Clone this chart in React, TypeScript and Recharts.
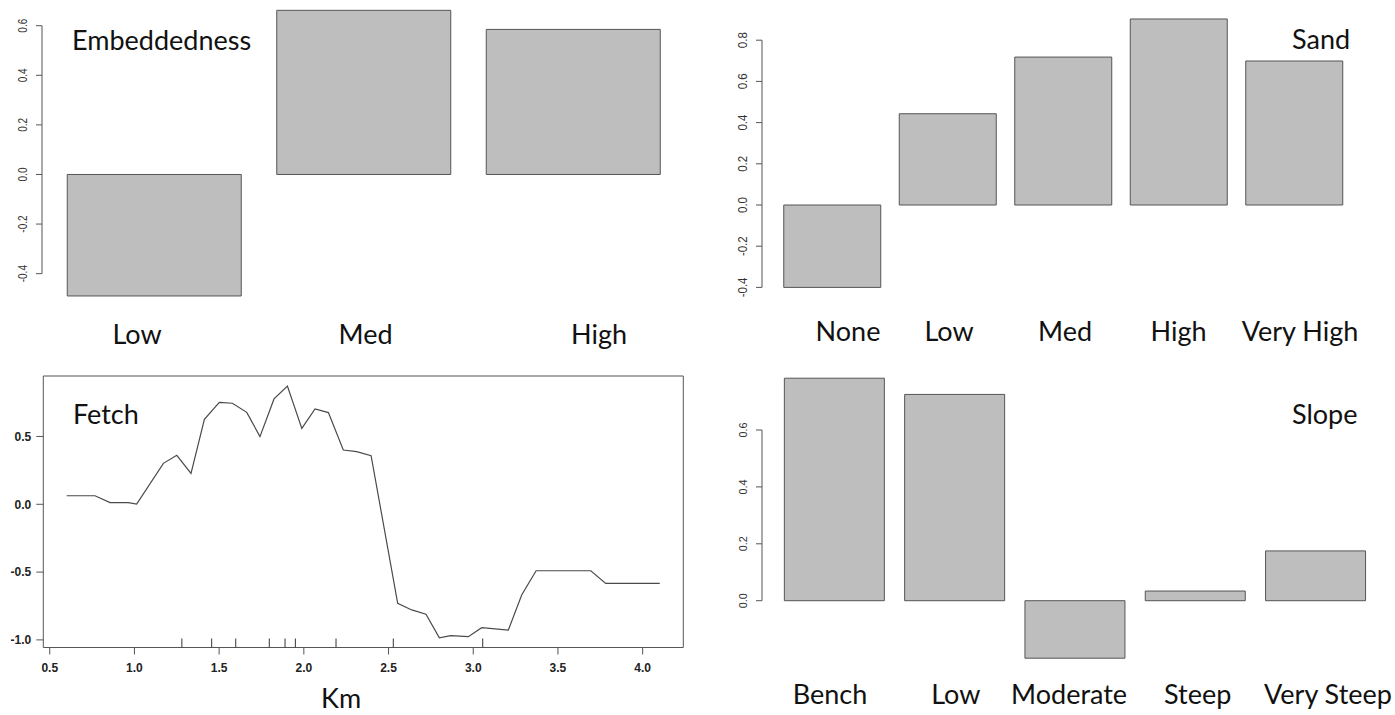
import { BarChart, Bar, XAxis, YAxis, ReferenceLine, ComposedChart, Line, Scatter, ReferenceArea } from 'recharts'

const BAR_FILL = '#bebebe'
const BAR_EDGE = '#555555'
const AXIS_GREY = '#555555'
const LABEL_FONT = 'Lato, "Open Sans", sans-serif'
const TICK_FONT = '"Liberation Sans", Arial, sans-serif'

// Embeddedness
const EMB_CATS = ['Low', 'Med', 'High']
const EMB_VALUES = [-0.49, 0.662, 0.585]
const EMB_TICKS = [-0.4, -0.2, 0, 0.2, 0.4, 0.6]

// Sand
const SAND_CATS = ['None', 'Low', 'Med', 'High', 'Very High']
const SAND_VALUES = [-0.4, 0.443, 0.718, 0.903, 0.699]
const SAND_TICKS = [-0.4, -0.2, 0, 0.2, 0.4, 0.6, 0.8]

// Slope
const SLOPE_CATS = ['Bench', 'Low', 'Moderate', 'Steep', 'Very Steep']
const SLOPE_VALUES = [0.782, 0.725, -0.202, 0.034, 0.175]
const SLOPE_TICKS = [0, 0.2, 0.4, 0.6]

// Fetch (km) partial dependence
const FETCH_KM = [
  0.6, 0.767, 0.856, 0.964, 1.013, 1.171, 1.25, 1.334, 1.413, 1.501, 1.578, 1.663,
  1.741, 1.824, 1.903, 1.988, 2.066, 2.145, 2.233, 2.312, 2.397, 2.554, 2.637, 2.721,
  2.8, 2.867, 2.971, 3.05, 3.207, 3.286, 3.371, 3.694, 3.782, 4.101,
]
const FETCH_EFFECT = [
  0.063, 0.063, 0.012, 0.012, 0.002, 0.302, 0.361, 0.228, 0.627, 0.752, 0.745, 0.678,
  0.499, 0.777, 0.872, 0.56, 0.703, 0.676, 0.4, 0.388, 0.359, -0.73, -0.779, -0.811,
  -0.984, -0.969, -0.976, -0.91, -0.927, -0.669, -0.49, -0.49, -0.583, -0.583,
]
const FETCH_RUG = [1.28, 1.456, 1.598, 1.796, 1.889, 1.95, 2.19, 2.528, 3.056]
const FETCH_X_TICKS = [0.5, 1, 1.5, 2, 2.5, 3, 3.5, 4]
const FETCH_Y_TICKS = [-1, -0.5, 0, 0.5]
const FETCH_X_DOMAIN: [number, number] = [0.462, 4.24]
const FETCH_Y_DOMAIN: [number, number] = [-1.056, 0.946]

function rotatedTick(fontSize: number, stretch: number) {
  return (props: any) => {
    const { x, y, payload } = props
    return (
      <text
        transform={`translate(${x},${y}) scale(${stretch},1) rotate(-90)`}
        textAnchor="middle"
        fontSize={fontSize}
        fontFamily={TICK_FONT}
        fill="#333"
      >
        {Number(payload.value).toFixed(1)}
      </text>
    )
  }
}

function categoryTick(dxList: number[], dy: number) {
  return (props: any) => {
    const { x, y, payload, index } = props
    return (
      <text x={x + (dxList[index] ?? 0)} y={y + dy} textAnchor="middle" fontSize={27} fontFamily={LABEL_FONT} fill="#111">
        {payload.value}
      </text>
    )
  }
}

interface BarPanelProps {
  cats: string[]
  values: number[]
  ticks: number[]
  domain: [number, number]
  left: number
  top: number
  width: number
  height: number
  marginTop: number
  plotHeight: number
  padLeft: number
  padRight: number
  barSize: number
  labelDx: number[]
  labelDy: number
  tickFont: number
  tickStretch: number
}

function BarPanel(p: BarPanelProps) {
  const data = p.cats.map((cat, i) => ({ cat, v: p.values[i] }))
  const first = p.ticks[0]
  const last = p.ticks[p.ticks.length - 1]
  return (
    <div style={{ position: 'absolute', left: p.left, top: p.top }}>
      <BarChart width={p.width} height={p.height} data={data} margin={{ top: p.marginTop, right: 0, bottom: 0, left: 0 }}>
        <XAxis
          dataKey="cat"
          axisLine={false}
          tickLine={false}
          tickSize={0}
          tickMargin={0}
          interval={0}
          height={p.height - p.marginTop - p.plotHeight}
          padding={{ left: p.padLeft, right: p.padRight }}
          tick={categoryTick(p.labelDx, p.labelDy)}
        />
        <XAxis xAxisId="frame" type="number" domain={[0, 1]} hide />
        <YAxis
          type="number"
          domain={p.domain}
          allowDataOverflow
          ticks={p.ticks}
          interval={0}
          width={42}
          axisLine={false}
          tickSize={6}
          tickMargin={9}
          tickLine={{ stroke: AXIS_GREY }}
          tick={rotatedTick(p.tickFont, p.tickStretch)}
        />
        <ReferenceLine
          xAxisId="frame"
          segment={[{ x: 0, y: first }, { x: 0, y: last }]}
          stroke={AXIS_GREY}
          ifOverflow="visible"
        />
        <Bar dataKey="v" fill={BAR_FILL} stroke={BAR_EDGE} strokeWidth={1} barSize={p.barSize} isAnimationActive={false} />
      </BarChart>
    </div>
  )
}

function Title({ text, left, top, size = 27 }: { text: string; left: number; top: number; size?: number }) {
  return (
    <div style={{ position: 'absolute', left, top, fontFamily: LABEL_FONT, fontSize: size, lineHeight: 1, color: '#111', whiteSpace: 'nowrap' }}>
      {text}
    </div>
  )
}

function FetchPanel() {
  const data = FETCH_KM.map((km, i) => ({ km, effect: FETCH_EFFECT[i] }))
  const rug = FETCH_RUG.map(km => ({ km, effect: FETCH_Y_DOMAIN[0] }))
  const tickStyle = { fontSize: 12, fontWeight: 'bold' as const, fill: '#222', fontFamily: TICK_FONT }
  return (
    <div style={{ position: 'absolute', left: 0, top: 360 }}>
      <ComposedChart width={690} height={355} data={data} margin={{ top: 16, right: 6.7, bottom: 0, left: 0 }}>
        <XAxis
          dataKey="km"
          type="number"
          domain={FETCH_X_DOMAIN}
          allowDataOverflow
          ticks={FETCH_X_TICKS}
          interval={0}
          tickFormatter={v => Number(v).toFixed(1)}
          axisLine={false}
          tickSize={7}
          tickMargin={9}
          tickLine={{ stroke: AXIS_GREY }}
          height={355 - 16 - 271.5}
          tick={tickStyle}
        />
        <YAxis
          type="number"
          domain={FETCH_Y_DOMAIN}
          allowDataOverflow
          ticks={FETCH_Y_TICKS}
          interval={0}
          tickFormatter={v => Number(v).toFixed(1)}
          axisLine={false}
          tickSize={7}
          tickMargin={5}
          tickLine={{ stroke: AXIS_GREY }}
          width={43.3}
          tick={tickStyle}
        />
        <ReferenceArea
          x1={FETCH_X_DOMAIN[0]}
          x2={FETCH_X_DOMAIN[1]}
          y1={FETCH_Y_DOMAIN[0]}
          y2={FETCH_Y_DOMAIN[1]}
          fill="none"
          stroke={AXIS_GREY}
          strokeWidth={1}
          ifOverflow="visible"
        />
        <Line dataKey="effect" type="linear" stroke="#4a4a4a" strokeWidth={1.2} dot={false} isAnimationActive={false} />
        <Scatter
          data={rug}
          dataKey="effect"
          isAnimationActive={false}
          shape={(s: any) => <line x1={s.cx} x2={s.cx} y1={s.cy} y2={s.cy - 9} stroke="#333" strokeWidth={1} />}
        />
      </ComposedChart>
    </div>
  )
}

export default function App() {
  return (
    <div style={{ position: 'absolute', left: 0, top: 0, width: 1395, height: 715, background: '#fff', overflow: 'hidden' }}>
      <BarPanel
        cats={EMB_CATS}
        values={EMB_VALUES}
        ticks={EMB_TICKS}
        domain={[-0.53, 0.7]}
        left={0}
        top={0}
        width={700}
        height={360}
        marginTop={0.9}
        plotHeight={305}
        padLeft={7.25}
        padRight={22.25}
        barSize={174}
        labelDx={[-17, 2, 26]}
        labelDy={38}
        tickFont={10}
        tickStretch={1.35}
      />
      <BarPanel
        cats={SAND_CATS}
        values={SAND_VALUES}
        ticks={SAND_TICKS}
        domain={[-0.45, 0.95]}
        left={720}
        top={0}
        width={675}
        height={360}
        marginTop={9.3}
        plotHeight={288.4}
        padLeft={12.75}
        padRight={42.75}
        barSize={97}
        labelDx={[15.5, 1, 1.5, -0.5, 5.5]}
        labelDy={43.5}
        tickFont={11.5}
        tickStretch={1.15}
      />
      <BarPanel
        cats={SLOPE_CATS}
        values={SLOPE_VALUES}
        ticks={SLOPE_TICKS}
        domain={[-0.24, 0.82]}
        left={720}
        top={360}
        width={675}
        height={355}
        marginTop={7.4}
        plotHeight={301.6}
        padLeft={12.35}
        padRight={19.15}
        barSize={100}
        labelDx={[-4.5, 1, -6, 2.3, 12.3]}
        labelDy={35}
        tickFont={10.8}
        tickStretch={1.07}
      />
      <FetchPanel />
      <Title text="Embeddedness" left={72} top={26} />
      <Title text="Sand" left={1292} top={25} />
      <Title text="Fetch" left={73} top={400} />
      <Title text="Slope" left={1292} top={400} />
      <Title text="Km" left={321} top={684} />
    </div>
  )
}
